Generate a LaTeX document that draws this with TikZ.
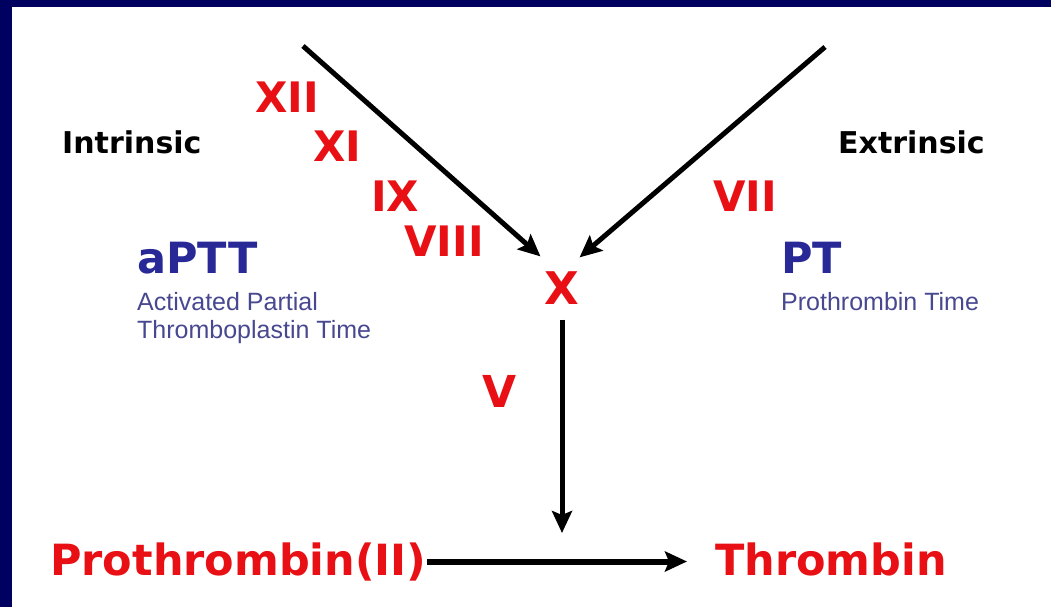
\documentclass[tikz,border=0pt]{standalone}
\usepackage{fontspec}
\setmainfont{DejaVu Sans}
\newfontfamily\subfont{Liberation Sans}
\usetikzlibrary{arrows.meta, positioning}

\definecolor{frameblue}{RGB}{0,0,96}
\definecolor{factorred}{RGB}{232,16,20}
\definecolor{testblue}{RGB}{40,40,150}
\definecolor{subblue}{RGB}{72,72,145}

\begin{document}
\begin{tikzpicture}[x=1pt, y=-1pt, >={Stealth[length=22pt,width=20pt,inset=4pt]},
    factor/.style={text=factorred, inner sep=0pt, font=\bfseries\fontsize{42}{42}\selectfont},
    path/.style={inner sep=0pt, font=\bfseries\fontsize{30}{30}\selectfont},
    test/.style={text=testblue, inner sep=0pt, font=\bfseries\fontsize{43}{43}\selectfont},
    testname/.style={text=subblue, inner sep=0pt, align=left, font=\subfont\fontsize{25}{28}\selectfont},
    product/.style={text=factorred, inner sep=0pt, font=\bfseries\fontsize{43}{43}\selectfont}]
    \useasboundingbox (0,0) rectangle (1051,607);
    % Frame
    \fill[frameblue] (0,0) rectangle (1051,607);
    \fill[white] (12,7) rectangle (1051,607);
    % Pathway names
    \node[path, anchor=base west] (intr) at (62,153) {Intrinsic};
    \node[path, anchor=base west] (extr) at (838,153) {Extrinsic};
    % Factors
    \node[factor] (f12) at (287,97) {XII};
    \node[factor] (f11) at (337,146) {XI};
    \node[factor] (f9) at (395,196) {IX};
    \node[factor] (f8) at (444,241) {VIII};
    \node[factor] (f7) at (745,196) {VII};
    \node[factor, font=\bfseries\fontsize{45}{45}\selectfont] (fX) at (562,288) {X};
    \node[factor, font=\bfseries\fontsize{44}{44}\selectfont] (f5) at (500,391) {V};
    % Tests
    \node[test, anchor=base west] (aptt) at (137,273) {aPTT};
    \node[testname, anchor=north west] (apttname) at (137,292) {Activated Partial\\Thromboplastin Time};
    \node[test, anchor=base west] (pt) at (781,273) {PT};
    \node[testname, anchor=north west] (ptname) at (781,292) {Prothrombin Time};
    % Products
    \node[product, anchor=base west] (prothr) at (50,575) {Prothrombin(II)};
    \node[product, anchor=base west] (thr) at (715,575) {Thrombin};
    % Arrows
    \coordinate (inStart) at (303,46);
    \coordinate (exStart) at (825,47);
    \coordinate (join) at (562,533);
    \draw[->, line width=5pt] (inStart) -- ([xshift=-4pt, yshift=15pt]fX.north west);
    \draw[->, line width=5pt] (exStart) -- ([yshift=14pt]fX.north east);
    \draw[->, line width=5pt, shorten <=15pt] (fX.south) -- (join);
    \draw[->, line width=6pt] (prothr.east) -- ([xshift=-28pt]prothr.east -| thr.west);
\end{tikzpicture}
\end{document}
